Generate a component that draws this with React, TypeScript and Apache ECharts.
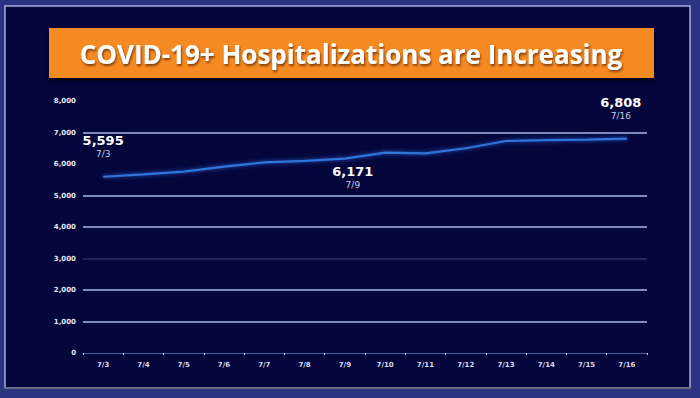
import React, { useEffect, useRef } from "react";
import * as echarts from "echarts";

const TITLE = "COVID-19+ Hospitalizations are Increasing";
const categories = ["7/3", "7/4", "7/5", "7/6", "7/7", "7/8", "7/9", "7/10", "7/11", "7/12", "7/13", "7/14", "7/15", "7/16"];
const hospitalizations = [5595, 5670, 5760, 5915, 6050, 6100, 6171, 6360, 6340, 6500, 6730, 6760, 6775, 6808];
const labeledIndices = [0, 6, 13];
const yTicks = [0, 1000, 2000, 3000, 4000, 5000, 6000, 7000, 8000];

export default function App() {
  const ref = useRef<HTMLDivElement>(null);
  useEffect(() => {
    const chart = echarts.init(ref.current!, null, { renderer: "svg" });
    const gridColors = ["transparent", "#7e89c0", "#7e89c0", "rgba(126,137,192,0.25)", "#7e89c0", "#7e89c0", "transparent", "#7e89c0", "transparent"];
    const labelPos: Record<number, any> = {
      0: { position: "top", distance: 16, bg: "#03053b" },
      6: { position: "bottom", distance: 5, offset: [8, 0] },
      13: { position: "top", distance: 16, offset: [-6, 0] },
    };
    const data = hospitalizations.map((v, i) => {
      const item: any = { value: v };
      if (labeledIndices.includes(i)) {
        const { bg, ...pos } = labelPos[i];
        item.label = {
          show: true,
          ...pos,
          formatter: (p: any) => `{v|${Number(p.value).toLocaleString("en-US")}}\n{d|${p.name}}`,
          rich: {
            v: { color: "#ffffff", fontSize: 13, fontWeight: "bold", fontFamily: "DejaVu Sans", lineHeight: 15, align: "center", backgroundColor: bg || "transparent", padding: [0, 2] },
            d: { color: "#c9cde6", fontSize: 9, fontFamily: "DejaVu Sans", lineHeight: 12, align: "center" },
          },
        };
      }
      return item;
    });
    chart.setOption({
      animation: false,
      backgroundColor: "#2a3482",
      graphic: [
        { type: "rect", shape: { x: 5, y: 6, width: 685, height: 382 }, style: { fill: "#03053b", stroke: "#a6aedb", lineWidth: 1.5 }, z: -10 },
        { type: "rect", shape: { x: 4, y: 387, width: 687, height: 2 }, style: { fill: "#6a6e82" }, z: -9 },
        { type: "rect", shape: { x: 49, y: 28, width: 605, height: 50 }, style: { fill: "#f68a22", shadowBlur: 4, shadowOffsetY: 3, shadowColor: "rgba(0,0,0,0.6)" }, z: 10 },
        {
          type: "text", x: 351, y: 54, z: 11,
          style: {
            text: TITLE, fill: "#ffffff", font: "bold 26px 'Open Sans'", align: "center", verticalAlign: "middle",
            textShadowColor: "rgba(80,30,0,0.7)", textShadowBlur: 2, textShadowOffsetX: 1, textShadowOffsetY: 2,
          },
        },
      ],
      grid: { left: 83, right: 53, top: 101, bottom: 45 },
      xAxis: {
        type: "category",
        data: categories,
        boundaryGap: true,
        axisLine: { lineStyle: { color: "#4a5aa0", width: 1 } },
        axisTick: { show: true, length: 2, lineStyle: { color: "#c0c6e6" } },
        axisLabel: { color: "#d8dbef", fontSize: 7, fontFamily: "DejaVu Sans", fontWeight: "bold", margin: 8 },
      },
      yAxis: {
        type: "value",
        min: 0,
        max: 8000,
        interval: 1000,
        axisLine: { show: false },
        axisTick: { show: false },
        splitLine: { show: true, lineStyle: { color: gridColors, width: 2 } },
        axisLabel: {
          color: "#e6e8f5", fontSize: 7, fontFamily: "DejaVu Sans", fontWeight: "bold", margin: 7,
          formatter: (v: number) => (yTicks.includes(v) ? v.toLocaleString("en-US") : ""),
        },
      },
      series: [
        {
          type: "line",
          data,
          symbol: "circle",
          symbolSize: 1,
          showSymbol: true,
          itemStyle: { color: "rgba(0,0,0,0)" },
          lineStyle: { color: "#2f74dc", width: 2.2, shadowColor: "rgba(60,130,255,0.7)", shadowBlur: 4 },
          z: 5,
        },
      ],
    });
    return () => chart.dispose();
  }, []);
  return <div ref={ref} style={{ position: "absolute", left: 0, top: 0, width: 700, height: 398 }} />;
}
